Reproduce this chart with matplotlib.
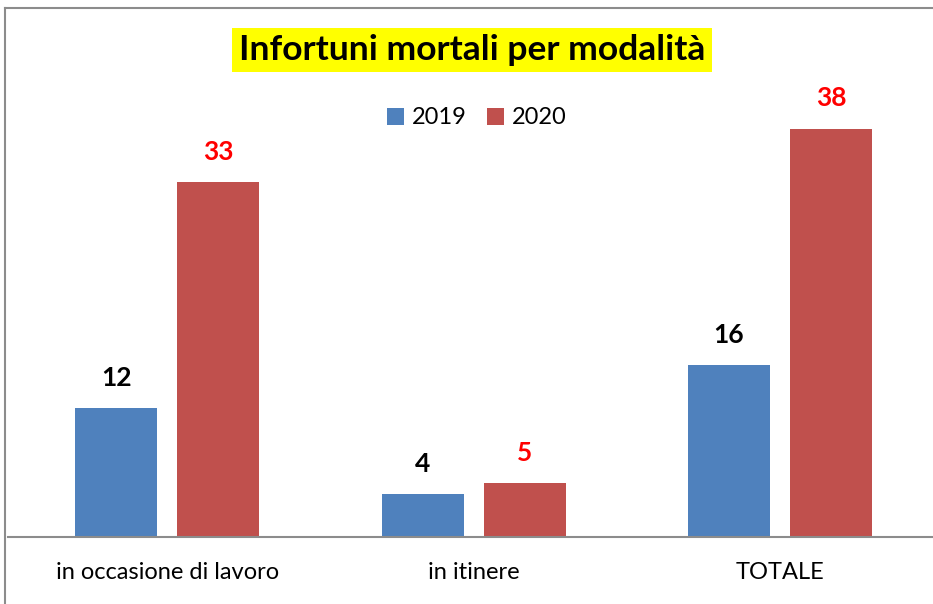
import matplotlib
matplotlib.use("Agg")
import matplotlib.pyplot as plt
from matplotlib.lines import Line2D
import numpy as np

categories = ["in occasione di lavoro", "in itinere", "TOTALE"]
years = ["2019", "2020"]
values_2019 = [12, 4, 16]
values_2020 = [33, 5, 38]

BLUE = "#4f81bd"
RED = "#c0504d"
W, H = 933, 604

plt.rcParams["font.family"] = ["Lato", "DejaVu Sans"]

fig = plt.figure(figsize=(W / 100, H / 100), dpi=100)

# outer chart frame: only top and left edges are visible in the screenshot
frame_kw = dict(transform=fig.transFigure, color="#8c8c8c", linewidth=1.5)
fig.lines.append(Line2D([5 / W, 1.0], [1 - 8 / H, 1 - 8 / H], **frame_kw))
fig.lines.append(Line2D([5 / W, 5 / W], [0.0, 1 - 8 / H], **frame_kw))

# axes: baseline at y=537px, 40 units -> 430px
ax_left = 8 / W
ax_bottom = (H - 537) / H
ax_height = 430 / H
ax = fig.add_axes([ax_left, ax_bottom, 1.0 - ax_left, ax_height])

x = np.arange(len(categories))
bw = 0.2675
off = 0.1664
b1 = ax.bar(x - off, values_2019, bw, color=BLUE, label=years[0])
b2 = ax.bar(x + off, values_2020, bw, color=RED, label=years[1])

for bars, vals, col in [(b1, values_2019, "black"), (b2, values_2020, "#ff0000")]:
    for rect, v in zip(bars, vals):
        ax.annotate(str(v), (rect.get_x() + rect.get_width() / 2, v), xytext=(0, 13),
                    textcoords="offset points", ha="center", va="bottom",
                    fontsize=19, fontweight="bold", color=col)

ax.set_xlim(-0.519, 2.499)
ax.set_ylim(0, 40)
ax.set_xticks(x)
ax.set_xticklabels(categories, fontsize=17)
ax.tick_params(axis="x", length=0, pad=18)
ax.set_yticks([])
for s in ["top", "right", "left"]:
    ax.spines[s].set_visible(False)
ax.spines["bottom"].set_color("#8c8c8c")
ax.spines["bottom"].set_linewidth(1.5)
ax.patch.set_alpha(0)

fig.legend(handles=[b1, b2], labels=years, loc="center", bbox_to_anchor=(477 / W, 1 - 118 / H),
           ncol=2, frameon=False, fontsize=17, handlelength=0.7, handleheight=0.7,
           handletextpad=0.35, columnspacing=0.85)

fig.text(472 / W, 1 - 50 / H, "Infortuni mortali per modalità", ha="center", va="center",
         fontsize=25.5, fontweight="bold", color="black",
         bbox=dict(boxstyle="square,pad=0.18", facecolor="#ffff00", edgecolor="none"))

fig.savefig("out.png", dpi=100, facecolor="white")
